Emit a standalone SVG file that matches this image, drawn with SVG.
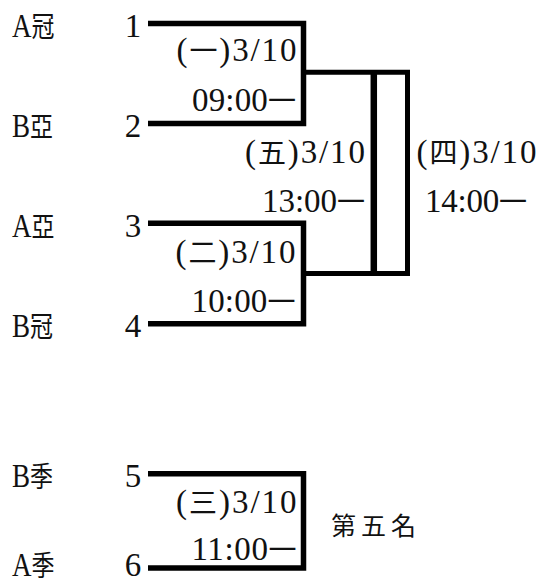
<svg xmlns="http://www.w3.org/2000/svg" width="539" height="583" viewBox="0 0 539 583">
<style>
  .t { font-size: 33px; fill: #111; font-family: "Liberation Serif", "Noto Sans CJK TC", serif; }
  .c { font-size: 28px; font-family: "Noto Sans CJK TC", sans-serif; }
  .f { font-size: 25px; fill: #111; font-family: "Noto Sans CJK TC", sans-serif; }
  .n { text-anchor: middle; }
  .ln { fill: none; stroke: #000; stroke-linejoin: miter; stroke-linecap: butt; }
</style>
<rect width="539" height="583" fill="#fff"/>
<g id="connectors">
  <path class="ln" stroke-width="5.5" d="M148,23.5 H303.5 V123.5 H148"/>
  <path class="ln" stroke-width="5.5" d="M148,223.3 H303.5 V323.7 H148"/>
  <path class="ln" stroke-width="5" d="M303.5,72.3 H407.5 V273.5 H303.5"/>
  <path class="ln" stroke-width="6.5" d="M373.8,72.3 V273.5"/>
  <path class="ln" stroke-width="5.5" d="M148,473.7 H303.5 V568 H148"/>
</g>
<g id="team-a-champ"><text class="t" transform="translate(12,37) scale(0.82,1)">A<tspan class="c">冠</tspan></text></g>
<g id="seed-1"><text class="t n" x="133" y="37">1</text></g>
<g id="team-b-second"><text class="t" transform="translate(12,137) scale(0.82,1)">B<tspan class="c">亞</tspan></text></g>
<g id="seed-2"><text class="t n" x="133" y="137">2</text></g>
<g id="team-a-second"><text class="t" transform="translate(12,237) scale(0.82,1)">A<tspan class="c">亞</tspan></text></g>
<g id="seed-3"><text class="t n" x="133" y="237">3</text></g>
<g id="team-b-champ"><text class="t" transform="translate(12,337) scale(0.82,1)">B<tspan class="c">冠</tspan></text></g>
<g id="seed-4"><text class="t n" x="133" y="337">4</text></g>
<g id="team-b-third"><text class="t" transform="translate(12,487) scale(0.82,1)">B<tspan class="c">季</tspan></text></g>
<g id="seed-5"><text class="t n" x="133" y="487">5</text></g>
<g id="team-a-third"><text class="t" transform="translate(12,576) scale(0.82,1)">A<tspan class="c">季</tspan></text></g>
<g id="seed-6"><text class="t n" x="133" y="576">6</text></g>

<g id="match-1">
  <text class="t" x="176.5" y="61" textLength="120">(<tspan class="c">一</tspan>)3/10</text>
  <text class="t" x="192" y="111" textLength="104">09:00<tspan class="c">一</tspan></text>
</g>
<g id="match-2">
  <text class="t" x="175.5" y="262.5" textLength="120">(<tspan class="c">二</tspan>)3/10</text>
  <text class="t" x="191.5" y="311.5" textLength="104">10:00<tspan class="c">一</tspan></text>
</g>
<g id="match-5">
  <text class="t" x="245" y="163" textLength="120">(<tspan class="c">五</tspan>)3/10</text>
  <text class="t" x="262" y="211.5" textLength="103">13:00<tspan class="c">一</tspan></text>
</g>
<g id="match-4">
  <text class="t" x="416.5" y="163" textLength="120">(<tspan class="c">四</tspan>)3/10</text>
  <text class="t" x="425" y="211.5" textLength="102">14:00<tspan class="c">一</tspan></text>
</g>
<g id="match-3">
  <text class="t" x="176" y="513" textLength="120.5">(<tspan class="c">三</tspan>)3/10</text>
  <text class="t" x="191.5" y="560" textLength="105">11:00<tspan class="c">一</tspan></text>
</g>
<g id="fifth-place"><text class="f" x="331 361 391" y="535">第五名</text></g>
</svg>
